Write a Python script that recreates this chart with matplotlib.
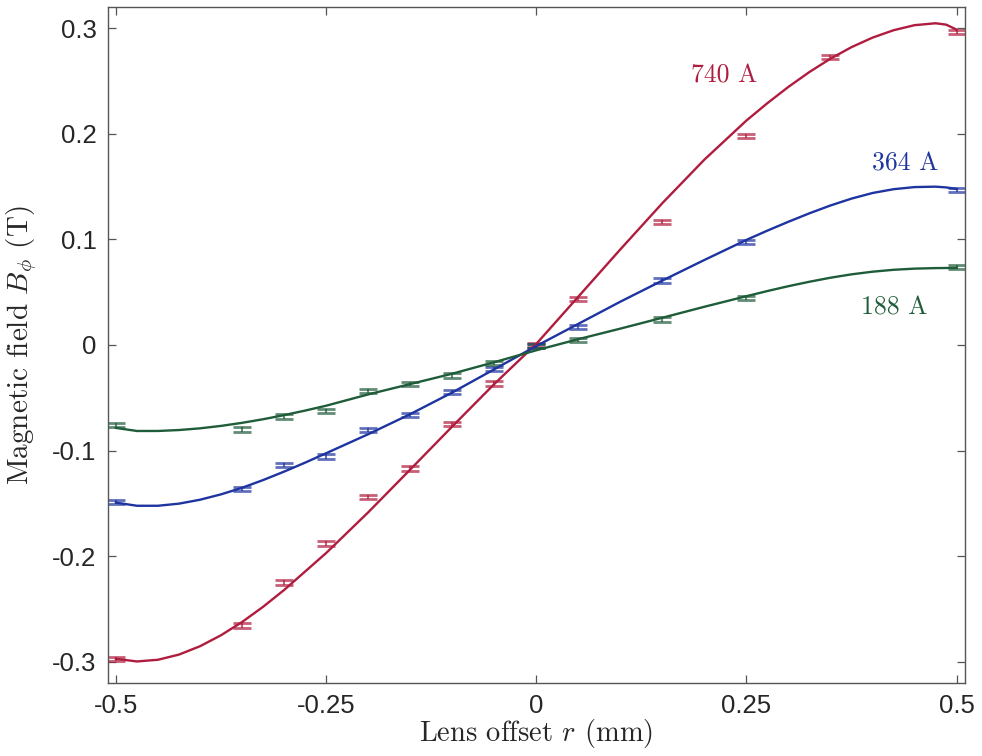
import matplotlib
matplotlib.use("Agg")
import matplotlib.pyplot as plt

plt.rcParams['mathtext.fontset'] = 'cm'
plt.rcParams['axes.unicode_minus'] = False

# measured points (error bars)
r_red = [-0.5, -0.35, -0.3, -0.25, -0.2, -0.15, -0.1, -0.05, 0.0, 0.05, 0.15, 0.25, 0.35, 0.5]
b_red = [-0.2975, -0.2655, -0.2248, -0.188, -0.1437, -0.117, -0.0748, -0.0364, 0.0, 0.0438, 0.1167, 0.198, 0.273, 0.2965]
e_red = [0.002] * len(r_red)

r_blue = [-0.5, -0.35, -0.3, -0.25, -0.2, -0.15, -0.1, -0.05, 0.0, 0.05, 0.15, 0.25, 0.5]
b_blue = [-0.1485, -0.1365, -0.1139, -0.1055, -0.0808, -0.0666, -0.0445, -0.0225, -0.001, 0.017, 0.0611, 0.0974, 0.1465]
e_blue = [0.002] * len(r_blue)

r_green = [-0.5, -0.35, -0.3, -0.25, -0.2, -0.15, -0.1, -0.05, 0.0, 0.05, 0.15, 0.25, 0.5]
b_green = [-0.076, -0.080, -0.0676, -0.0622, -0.0432, -0.0366, -0.0288, -0.0171, -0.001, 0.0046, 0.0242, 0.0444, 0.074]
e_green = [0.002] * len(r_green)

# fitted curves
r_fit = [-0.5, -0.475, -0.45, -0.425, -0.4, -0.375, -0.35, -0.325, -0.3, -0.275, -0.25,
         -0.2, -0.15, -0.1, -0.05, 0.0, 0.05, 0.1, 0.15, 0.2, 0.25,
         0.275, 0.3, 0.325, 0.35, 0.375, 0.4, 0.425, 0.45, 0.475, 0.4875, 0.5]
fit_red = [-0.2971, -0.2996, -0.2980, -0.2931, -0.2852, -0.2748, -0.2623, -0.2479, -0.2320, -0.2145, -0.1970,
           -0.1585, -0.1180, -0.0772, -0.0370, 0.0010, 0.0457, 0.0905, 0.1343, 0.1755, 0.2125,
           0.2290, 0.2444, 0.2585, 0.2711, 0.2820, 0.2910, 0.2980, 0.3028, 0.3046, 0.3033, 0.2986]
fit_blue = [-0.1492, -0.1522, -0.1522, -0.1502, -0.1465, -0.1414, -0.1352, -0.1279, -0.1199, -0.1114, -0.1025,
            -0.0845, -0.0655, -0.0450, -0.0230, -0.0010, 0.0200, 0.0410, 0.0610, 0.0805, 0.0995,
            0.1083, 0.1167, 0.1247, 0.1321, 0.1386, 0.1439, 0.1475, 0.1495, 0.1499, 0.1492, 0.1478]
fit_green = [-0.0785, -0.0814, -0.0814, -0.0805, -0.0789, -0.0766, -0.0737, -0.0703, -0.0664, -0.0621, -0.0575,
             -0.0468, -0.0370, -0.0272, -0.0163, -0.0050, 0.0055, 0.0155, 0.0258, 0.0362, 0.0462,
             0.0511, 0.0557, 0.0599, 0.0637, 0.0669, 0.0694, 0.0712, 0.0723, 0.0728, 0.0729, 0.0730]

labels = ['740 A', '364 A', '188 A']
label_pos = [(0.224, 0.255), (0.439, 0.172), (0.426, 0.0356)]

c_red = '#B01C3E'
c_blue = '#1E34A0'
c_green = '#1F5C3A'

xticks = [-0.5, -0.25, 0, 0.25, 0.5]
xticklabels = ['-0.5', '-0.25', '0', '0.25', '0.5']
yticks = [-0.3, -0.2, -0.1, 0, 0.1, 0.2, 0.3]
yticklabels = ['-0.3', '-0.2', '-0.1', '0', '0.1', '0.2', '0.3']

fig = plt.figure(figsize=(9.82, 7.56), dpi=100)
ax = fig.add_axes([107.5 / 982, 1 - 683 / 756, (965 - 107.5) / 982, (683 - 7) / 756])

series = [
    (r_red, b_red, e_red, fit_red, c_red),
    (r_blue, b_blue, e_blue, fit_blue, c_blue),
    (r_green, b_green, e_green, fit_green, c_green),
]
for r, b, e, fit, c in series:
    ax.errorbar(r, b, yerr=e, fmt='none', ecolor=c, elinewidth=1.5, capsize=6.2,
                capthick=2.0, alpha=0.7, zorder=2)
    ax.plot(r_fit, fit, color=c, lw=1.7, zorder=3, solid_joinstyle='round')

for (tx, ty), lab, c in zip(label_pos, labels, [c_red, c_blue, c_green]):
    ax.text(tx, ty, lab, color=c, fontfamily='cmr10',
            fontsize=18.5, ha='center', va='center')

ax.set_xlim(-0.51, 0.51)
ax.set_ylim(-0.32, 0.32)
ax.set_xticks(xticks)
ax.set_xticklabels(xticklabels)
ax.set_yticks(yticks)
ax.set_yticklabels(yticklabels)

axcol = '#555555'
for s in ax.spines.values():
    s.set_color(axcol)
    s.set_linewidth(1.0)
ax.tick_params(direction='in', length=6, width=0.9, color=axcol, top=True, right=True,
               labelsize=18.5, labelcolor='#262626', pad=8)
for t in ax.get_xticklabels() + ax.get_yticklabels():
    t.set_fontfamily('Liberation Sans')

ax.set_xlabel('Lens offset $r$ (mm)', fontsize=20.5, color='#262626', fontfamily='cmr10')
ax.set_ylabel(r'Magnetic field $B_\phi$ (T)', fontsize=21, color='#262626', fontfamily='cmr10')
ax.xaxis.set_label_coords(0.5, -0.05)
ax.yaxis.set_label_coords(-0.08, 0.5)

fig.savefig('out.png', dpi=100)
